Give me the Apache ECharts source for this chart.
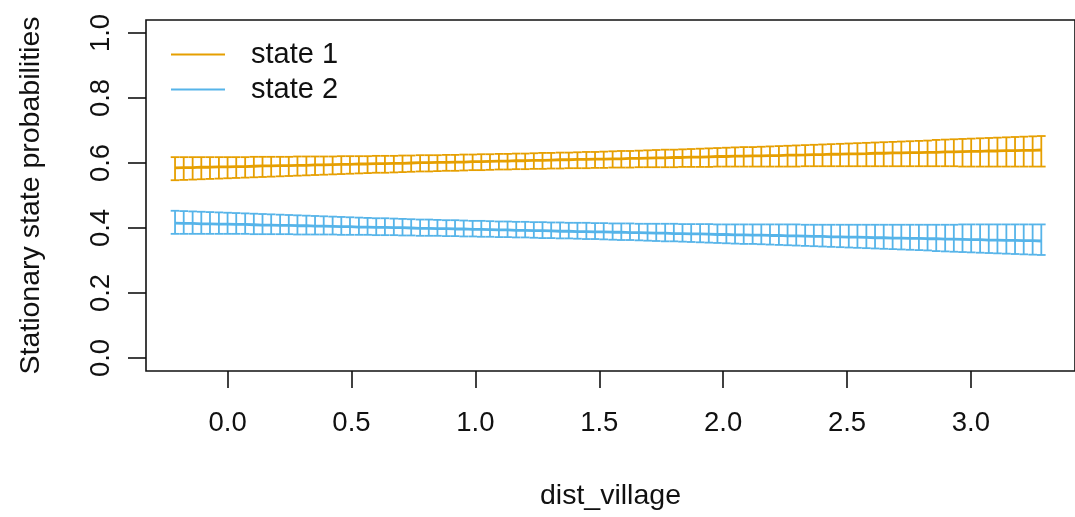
<!DOCTYPE html>
<html>
<head>
<meta charset="utf-8">
<script src="https://cdn.jsdelivr.net/npm/echarts@6/dist/echarts.min.js"></script>
<style>
  html, body { margin: 0; padding: 0; background: #ffffff; }
  #chart { width: 1075px; height: 517px; }
</style>
</head>
<body>
<div id="chart"></div>
<script>
// Covariate grid (dist_village) at which the stationary probabilities were evaluated
const distVillage = [-0.212,-0.177,-0.141,-0.106,-0.071,-0.035,0.000,0.035,0.071,0.106,0.141,0.176,0.212,0.247,0.282,0.318,0.353,0.388,0.424,0.459,0.494,0.530,0.565,0.600,0.635,0.671,0.706,0.741,0.777,0.812,0.847,0.883,0.918,0.953,0.989,1.024,1.059,1.095,1.130,1.165,1.201,1.236,1.271,1.306,1.342,1.377,1.412,1.448,1.483,1.518,1.554,1.589,1.624,1.660,1.695,1.730,1.766,1.801,1.836,1.871,1.907,1.942,1.977,2.013,2.048,2.083,2.119,2.154,2.189,2.225,2.260,2.295,2.331,2.366,2.401,2.436,2.472,2.507,2.542,2.578,2.613,2.648,2.684,2.719,2.754,2.790,2.825,2.860,2.896,2.931,2.966,3.001,3.037,3.072,3.107,3.143,3.178,3.213,3.249,3.284];

// State 1: estimate and 95% confidence bounds
const state1Est = [.585,.586,.586,.587,.587,.588,.588,.589,.589,.590,.591,.591,.592,.592,.593,.593,.594,.594,.595,.596,.596,.597,.597,.598,.598,.599,.599,.600,.601,.601,.602,.602,.603,.603,.604,.604,.605,.606,.606,.607,.607,.608,.608,.609,.610,.610,.611,.611,.612,.612,.613,.613,.614,.614,.615,.616,.616,.617,.617,.618,.618,.619,.620,.620,.621,.621,.622,.622,.623,.623,.624,.624,.625,.626,.626,.627,.627,.628,.628,.629,.630,.630,.631,.631,.632,.632,.633,.633,.634,.634,.635,.636,.636,.637,.637,.638,.638,.639,.639,.640];
const state1Upper = [.618,.618,.618,.618,.618,.618,.618,.618,.618,.619,.619,.619,.619,.619,.620,.620,.620,.620,.620,.621,.621,.621,.621,.622,.622,.622,.623,.623,.624,.624,.624,.625,.625,.626,.626,.627,.627,.628,.628,.629,.629,.630,.631,.631,.632,.632,.633,.634,.634,.635,.636,.637,.637,.638,.639,.640,.641,.641,.642,.643,.644,.645,.646,.647,.648,.649,.649,.650,.651,.652,.653,.654,.655,.656,.657,.658,.659,.660,.661,.662,.663,.664,.665,.666,.667,.668,.669,.671,.672,.673,.674,.675,.676,.677,.678,.679,.680,.681,.682,.683];
const state1Lower = [.547,.548,.549,.550,.551,.552,.553,.554,.555,.556,.557,.558,.559,.560,.561,.562,.563,.564,.565,.566,.567,.568,.569,.570,.570,.571,.572,.573,.574,.574,.575,.576,.576,.577,.578,.578,.579,.580,.580,.581,.581,.582,.582,.583,.583,.584,.584,.584,.585,.585,.586,.586,.586,.587,.587,.587,.587,.587,.588,.588,.588,.588,.589,.589,.589,.589,.589,.589,.589,.589,.589,.589,.590,.590,.590,.590,.590,.590,.590,.590,.590,.590,.590,.590,.590,.590,.590,.590,.590,.590,.589,.589,.589,.589,.589,.589,.589,.589,.589,.589];

// State 2: estimate and 95% confidence bounds
const state2Est = [.415,.414,.414,.413,.413,.412,.412,.411,.411,.410,.409,.409,.408,.408,.407,.407,.406,.406,.405,.404,.404,.403,.403,.402,.402,.401,.401,.400,.399,.399,.398,.398,.397,.397,.396,.396,.395,.394,.394,.393,.393,.392,.392,.391,.390,.390,.389,.389,.388,.388,.387,.387,.386,.386,.385,.384,.384,.383,.383,.382,.382,.381,.380,.380,.379,.379,.378,.378,.377,.377,.376,.376,.375,.374,.374,.373,.373,.372,.372,.371,.370,.370,.369,.369,.368,.368,.367,.367,.366,.366,.365,.364,.364,.363,.363,.362,.362,.361,.361,.360];
const state2Upper = [.453,.452,.451,.450,.449,.448,.447,.446,.445,.444,.443,.442,.441,.440,.439,.438,.437,.436,.435,.434,.433,.432,.431,.430,.430,.429,.428,.427,.426,.426,.425,.424,.424,.423,.422,.422,.421,.420,.420,.419,.419,.418,.418,.417,.417,.416,.416,.416,.415,.415,.414,.414,.414,.413,.413,.413,.413,.413,.412,.412,.412,.412,.411,.411,.411,.411,.411,.411,.411,.411,.411,.411,.410,.410,.410,.410,.410,.410,.410,.410,.410,.410,.410,.410,.410,.410,.410,.410,.410,.410,.411,.411,.411,.411,.411,.411,.411,.411,.411,.411];
const state2Lower = [.382,.382,.382,.382,.382,.382,.382,.382,.382,.381,.381,.381,.381,.381,.380,.380,.380,.380,.380,.379,.379,.379,.379,.378,.378,.378,.377,.377,.376,.376,.376,.375,.375,.374,.374,.373,.373,.372,.372,.371,.371,.370,.369,.369,.368,.368,.367,.366,.366,.365,.364,.363,.363,.362,.361,.360,.359,.359,.358,.357,.356,.355,.354,.353,.352,.351,.351,.350,.349,.348,.347,.346,.345,.344,.343,.342,.341,.340,.339,.338,.337,.336,.335,.334,.333,.332,.331,.329,.328,.327,.326,.325,.324,.323,.322,.321,.320,.319,.318,.317];

// Axis ticks
const xTicks = [0, 0.5, 1, 1.5, 2, 2.5, 3];
const yTicks = [0, 0.2, 0.4, 0.6, 0.8, 1];

const stateNames = ['state 1', 'state 2'];
const stateColors = ['#E69F00', '#56B4E9'];

const FONT = '"Liberation Sans", Arial, sans-serif';
const INK = '#111111';

function pairs(xs, ys) { return xs.map((x, i) => [x, ys[i]]); }
function triples(xs, lo, hi) { return xs.map((x, i) => [x, lo[i], hi[i]]); }

const xStep = distVillage[1] - distVillage[0];

// Error bars: vertical segment plus flat caps spanning the grid spacing
function errorBar(color) {
  return function (params, api) {
    const x = api.value(0);
    const pLo = api.coord([x, api.value(1)]);
    const pHi = api.coord([x, api.value(2)]);
    const half = api.size([xStep, 0])[0] / 2;
    const style = { stroke: color, lineWidth: 1.8 };
    return {
      type: 'group',
      children: [
        { type: 'line', shape: { x1: pLo[0], y1: pLo[1], x2: pHi[0], y2: pHi[1] }, style: style },
        { type: 'line', shape: { x1: pHi[0] - half, y1: pHi[1], x2: pHi[0] + half, y2: pHi[1] }, style: style },
        { type: 'line', shape: { x1: pLo[0] - half, y1: pLo[1], x2: pLo[0] + half, y2: pLo[1] }, style: style }
      ]
    };
  };
}

const chart = echarts.init(document.getElementById('chart'), null, { renderer: 'canvas' });

chart.setOption({
  backgroundColor: '#ffffff',
  animation: false,
  textStyle: { fontFamily: FONT, color: INK },
  grid: {
    left: 146, right: -8, top: 20, bottom: 146,
    show: true, borderColor: INK, borderWidth: 1.6, backgroundColor: 'transparent'
  },
  legend: {
    data: stateNames.map(n => ({ name: n, icon: 'rect' })),
    orient: 'vertical',
    left: 166, top: 35,
    itemWidth: 54, itemHeight: 2, itemGap: 6,
    textStyle: { fontFamily: FONT, fontSize: 29, color: INK, lineHeight: 29, padding: [0, 0, 0, 21] },
    selectedMode: false
  },
  xAxis: {
    type: 'value',
    min: -0.3292, max: 3.42,
    name: 'dist_village',
    nameLocation: 'middle',
    nameGap: 111,
    nameTextStyle: { fontFamily: FONT, fontSize: 28.5, color: INK },
    axisLine: { show: false, onZero: false },
    splitLine: { show: false },
    axisTick: { show: true, customValues: xTicks, length: 17, inside: false, lineStyle: { color: INK, width: 1.6 } },
    axisLabel: {
      customValues: xTicks, margin: 38, fontSize: 27.5, color: INK, fontFamily: FONT,
      formatter: v => v.toFixed(1)
    }
  },
  yAxis: {
    type: 'value',
    min: -0.04, max: 1.04,
    name: 'Stationary state probabilities',
    nameLocation: 'middle',
    nameRotate: 90,
    nameGap: 100,
    nameTextStyle: { fontFamily: FONT, fontSize: 28.5, color: INK },
    axisLine: { show: false, onZero: false },
    splitLine: { show: false },
    axisTick: { show: true, customValues: yTicks, length: 18, inside: false, lineStyle: { color: INK, width: 1.6 } },
    axisLabel: {
      customValues: yTicks, margin: 31, rotate: 90, fontSize: 27.5, color: INK, fontFamily: FONT,
      formatter: v => v.toFixed(1)
    }
  },
  series: [
    {
      name: 'state 1 interval', type: 'custom', renderItem: errorBar(stateColors[0]),
      data: triples(distVillage, state1Lower, state1Upper), encode: { x: 0, y: [1, 2] }, z: 2
    },
    {
      name: 'state 2 interval', type: 'custom', renderItem: errorBar(stateColors[1]),
      data: triples(distVillage, state2Lower, state2Upper), encode: { x: 0, y: [1, 2] }, z: 2
    },
    {
      name: stateNames[0], type: 'line', data: pairs(distVillage, state1Est),
      symbol: 'none', color: stateColors[0], lineStyle: { color: stateColors[0], width: 2.8 }, z: 3
    },
    {
      name: stateNames[1], type: 'line', data: pairs(distVillage, state2Est),
      symbol: 'none', color: stateColors[1], lineStyle: { color: stateColors[1], width: 2.8 }, z: 3
    }
  ]
});
</script>
</body>
</html>
